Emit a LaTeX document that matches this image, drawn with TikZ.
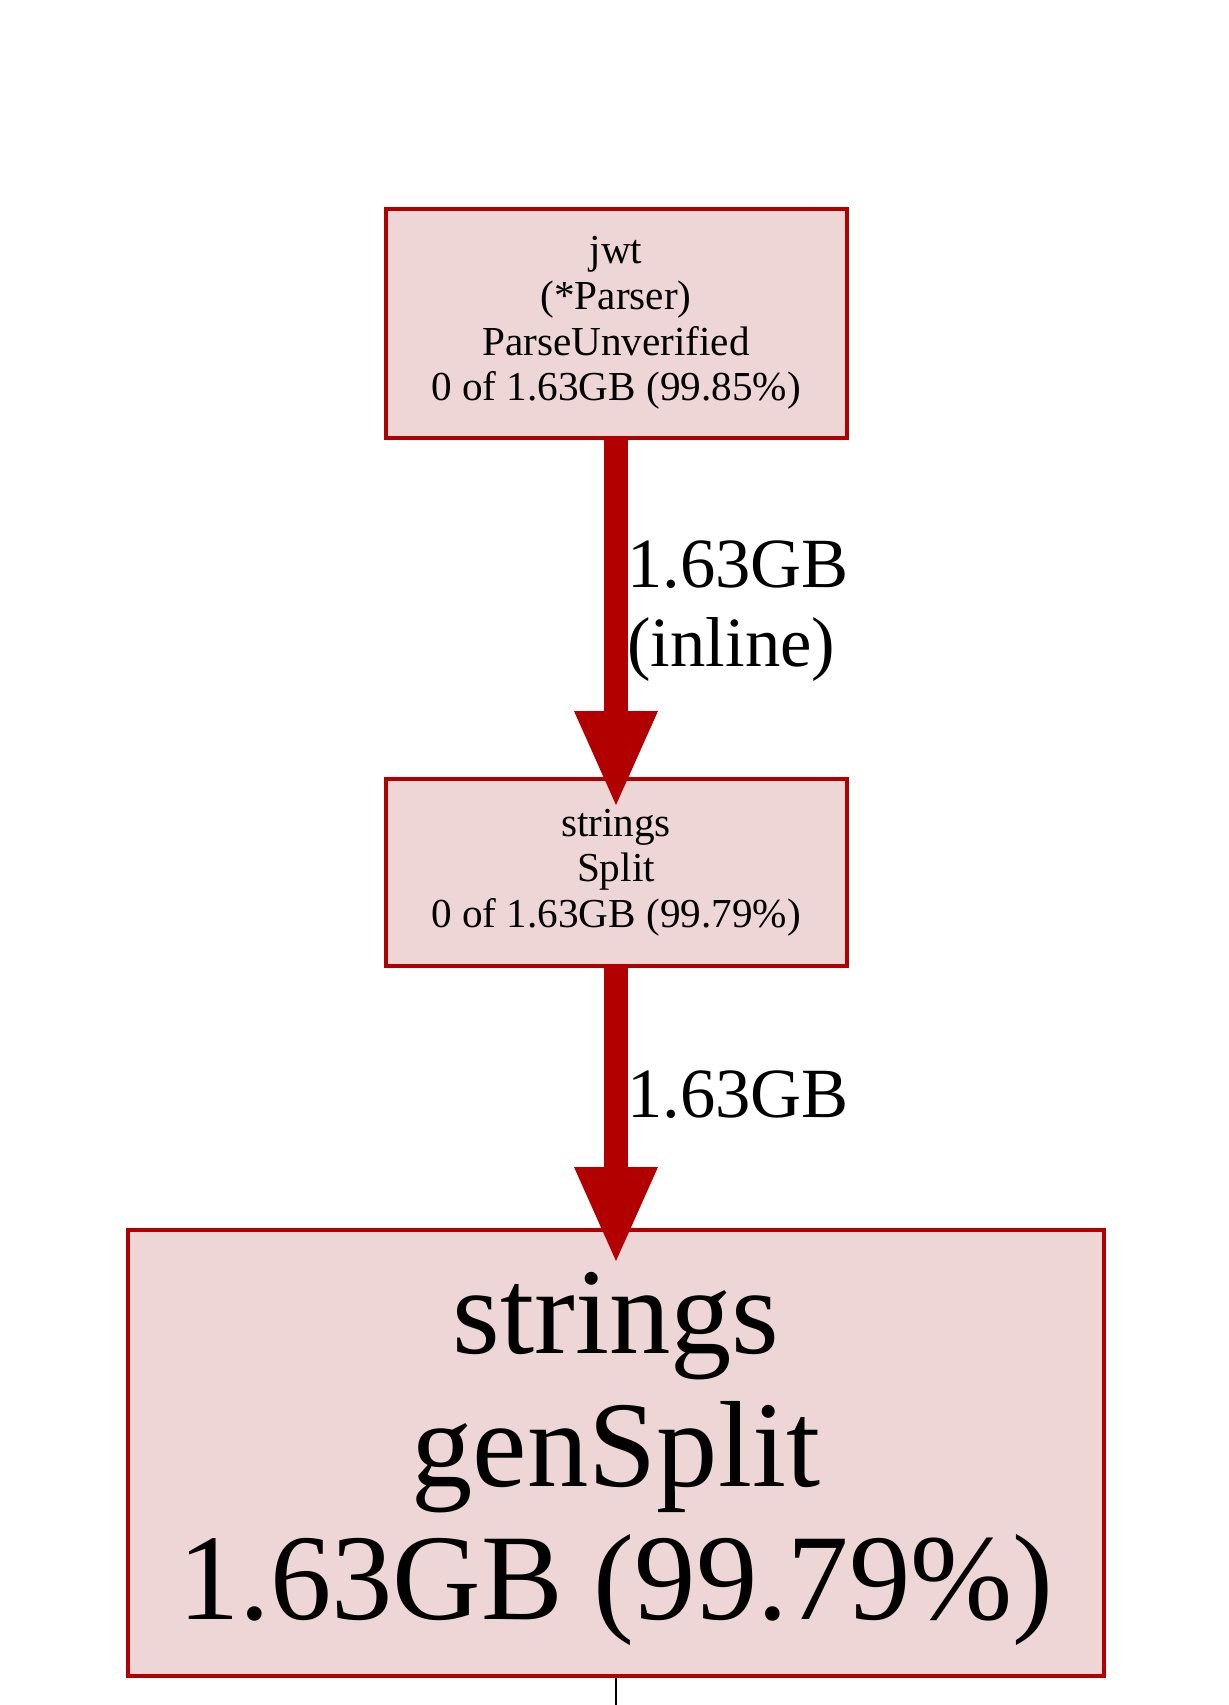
\documentclass[tikz,border=0pt]{standalone}
\usepackage{fontspec}
\setmainfont{Liberation Serif}
\usetikzlibrary{arrows.meta}
\definecolor{nodeline}{HTML}{B20000}
\definecolor{nodefill}{HTML}{EDD6D5}
\begin{document}
\begin{tikzpicture}[x=0.5pt,y=-0.5pt,
  fnbox/.style={rectangle, draw=nodeline, fill=nodefill, line width=2pt, inner sep=0pt, align=center},
  smalltext/.style={font=\fontsize{20.6pt}{22.85pt}\selectfont},
  bigtext/.style={font=\fontsize{61.3pt}{66.5pt}\selectfont},
  edge/.style={draw=nodeline, line width=12pt, -{Triangle[length=47pt,width=42pt,line width=0pt]}},
  elabel/.style={font=\fontsize{35.3pt}{39.5pt}\selectfont, align=left, inner sep=0pt, anchor=west}]
\useasboundingbox (0,0) rectangle (1228,1705);
\node[fnbox, smalltext, minimum width=230.5pt, minimum height=114.5pt] (b1) at (616,323)
  {jwt\\(*Parser)\\ParseUnverified\\0 of 1.63GB (99.85\%)};
\node[fnbox, smalltext, minimum width=230.5pt, minimum height=93.5pt] (b2) at (616,872.5)
  {strings\\Split\\0 of 1.63GB (99.79\%)};
\node[fnbox, bigtext, minimum width=488pt, minimum height=223pt] (b3) at (616,1453) {};
\node[bigtext, align=center, inner sep=0pt] (b3t) at (616,1459)
  {strings\\genSplit\\1.63GB (99.79\%)};
\coordinate (t1) at ([yshift=-14pt]b2.north);
\coordinate (t2) at ([yshift=-16.5pt]b3.north);
\coordinate (bend) at (616,1705);
\draw[edge] (b1.south) -- (t1);
\draw[edge] (b2.south) -- (t2);
\draw[line width=1pt] (b3.south) -- (bend);
\node[elabel] (l1) at (627,611) {1.63GB\\(inline)};
\node[elabel] (l2) at (627,1095) {1.63GB};
\end{tikzpicture}
\end{document}
